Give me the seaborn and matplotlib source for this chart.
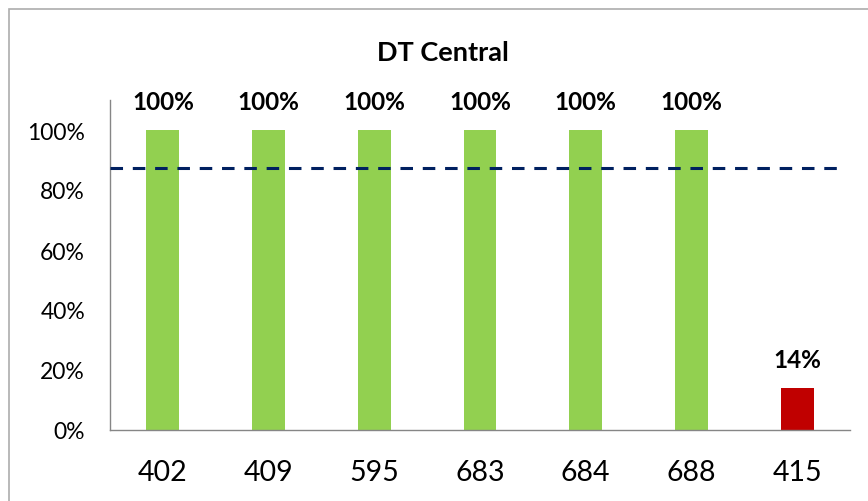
import matplotlib
matplotlib.use("Agg")
import matplotlib.pyplot as plt
import seaborn as sns
import pandas as pd
from matplotlib.patches import Rectangle

categories = ["402", "409", "595", "683", "684", "688", "415"]
values = [1.00, 1.00, 1.00, 1.00, 1.00, 1.00, 0.14]
bar_colors = ["#92D050", "#92D050", "#92D050", "#92D050", "#92D050", "#92D050", "#C00000"]
target = 0.875
title = "DT Central"
yticks = [0, 0.2, 0.4, 0.6, 0.8, 1.0]
ytick_labels = ["0%", "20%", "40%", "60%", "80%", "100%"]

sns.set_theme(style="white")
plt.rcParams["font.family"] = ["Lato", "DejaVu Sans"]
plt.rcParams["text.color"] = "black"
plt.rcParams["xtick.color"] = "black"
plt.rcParams["ytick.color"] = "black"

df = pd.DataFrame({"cat": categories, "val": values})

fig = plt.figure(figsize=(8.68, 5.02), dpi=100)
ax = fig.add_axes([110/868, (502-431)/502, 740/868, 330/502])

sns.barplot(data=df, x="cat", y="val", hue="cat", palette=bar_colors,
            width=0.31, legend=False, ax=ax, saturation=1, edgecolor="none")

ax.set_ylim(0, 1.1)
ax.set_xlim(-0.5, len(categories) - 0.5)
ax.set_yticks(yticks)
ax.set_yticklabels(ytick_labels, fontsize=16.5)
ax.tick_params(axis="x", labelsize=20.5, pad=21, length=0, colors="black")
ax.tick_params(axis="y", length=0, pad=18, colors="black")
ax.set_xlabel("")
ax.set_ylabel("")

for s in ["top", "right"]:
    ax.spines[s].set_visible(False)
for s in ["left", "bottom"]:
    ax.spines[s].set_color("#868686")
    ax.spines[s].set_linewidth(1.0)

ax.axhline(target, xmin=0, xmax=730/740, color="#002060", linestyle=(0, (4.1, 3.2)),
           linewidth=2.2, zorder=3)

for i, v in enumerate(values):
    ax.text(i, v + 0.094, f"{round(v*100):.0f}%", ha="center", va="center",
            fontsize=17.5, fontweight="bold", color="black")

fig.text(443/868, 1 - 53/502, title, ha="center", va="center",
         fontsize=19.5, fontweight="bold", color="black")

fig.patches.append(Rectangle((9/868, -0.1), 1.2, 1 - 10/502 + 0.1,
                             transform=fig.transFigure, fill=False,
                             edgecolor="#ADADAD", linewidth=1.2))

fig.savefig("out.png", dpi=100)
